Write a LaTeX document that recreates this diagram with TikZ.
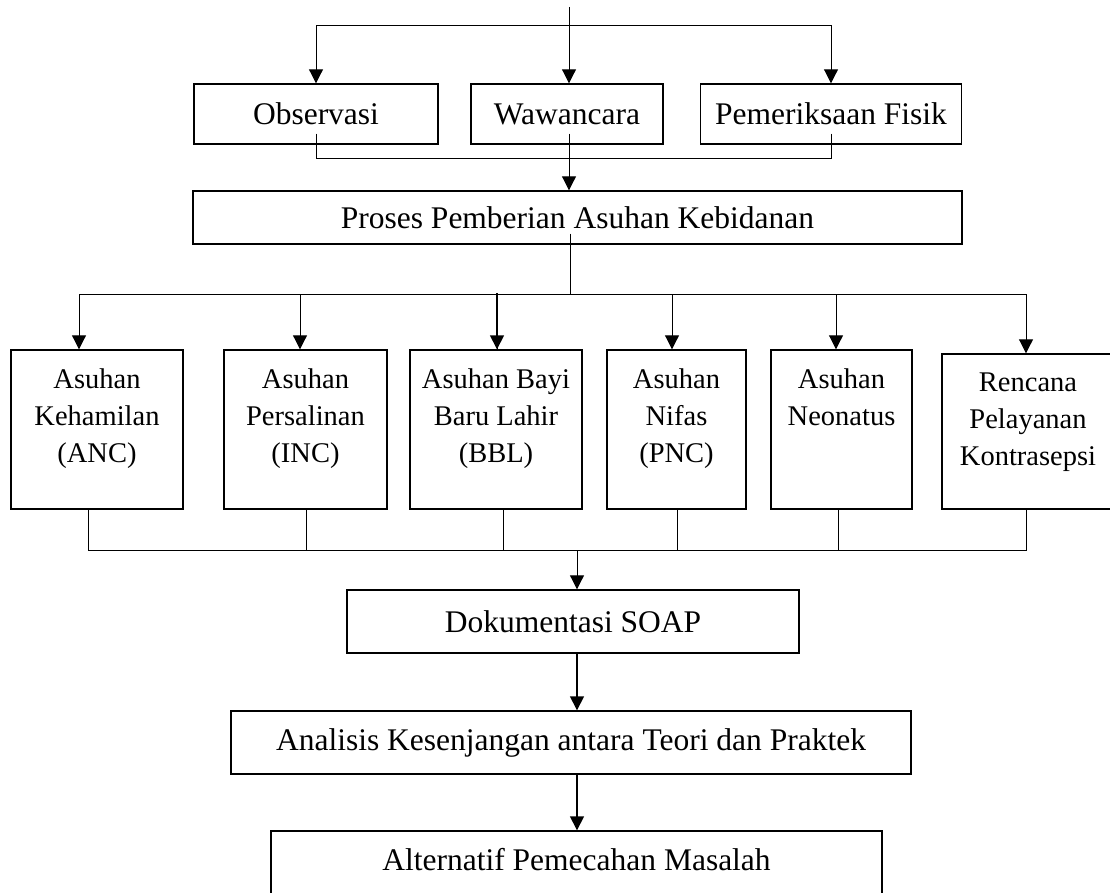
\documentclass[tikz,border=0pt]{standalone}
\usepackage{fontspec}
\setmainfont{Liberation Serif}
\usetikzlibrary{arrows.meta}
\def\mainfont{\fontsize{31.5}{37}\selectfont}
\def\childfont{\fontsize{28.5}{37}\selectfont}
\def\myboxh{60pt}
\def\mytallh{159pt}
\tikzset{
>={Triangle[length=14pt,width=14pt]},
my box/.style={draw,line width=1.4pt,inner sep=0pt,minimum height=\myboxh},
tall box/.style={my box,minimum height=\mytallh},
top text/.style={anchor=north,align=center,inner sep=0pt,yshift=-19pt,font=\childfont},
top main/.style={top text,yshift=1pt,font=\mainfont},
}
\begin{document}
\begin{tikzpicture}[x=1pt,y=-1pt,line width=1pt,font=\mainfont]
\useasboundingbox (0,0) rectangle (1110,893);
% data collection
\node[my box,minimum width=244pt] (obs) at (316,114) {Observasi};
\node[my box,minimum width=192pt] (waw) at (567,114) {Wawancara};
\node[my box,minimum width=261pt] (pem) at (831,114) {Pemeriksaan Fisik};
\node[my box,minimum width=769pt,minimum height=53pt] (proses) at (577.5,217.5) {Proses Pemberian Asuhan Kebidanan};
% care types
\node[tall box,minimum width=172pt,label={[top text]north:{Asuhan\\Kehamilan\\(ANC)}}] (anc) at (97,429.5) {};
\node[tall box,minimum width=163pt,label={[top text]north:{Asuhan\\Persalinan\\(INC)}}] (inc) at (305.5,429.5) {};
\node[tall box,minimum width=172pt,label={[top text]north:{Asuhan Bayi\\Baru Lahir\\(BBL)}}] (bbl) at (496,429.5) {};
\node[tall box,minimum width=139pt,label={[top text]north:{Asuhan\\Nifas\\(PNC)}}] (pnc) at (676.5,429.5) {};
\node[tall box,minimum width=141pt,label={[top text]north:{Asuhan\\Neonatus}}] (neo) at (841.5,429.5) {};
\node[tall box,minimum width=172pt,minimum height=155pt,label={[top text]north:{Rencana\\Pelayanan\\Kontrasepsi}}] (kb) at (1028,431.5) {};
% results
\node[my box,minimum width=452pt,minimum height=63pt] (soap) at (573,621.5) {Dokumentasi SOAP};
\node[my box,minimum width=680pt,minimum height=63pt] (ana) at (571,742.5) {Analisis Kesenjangan antara Teori dan Praktek};
\node[my box,minimum width=611pt,minimum height=68pt,label={[top main]north:{Alternatif Pemecahan Masalah}}] (alt) at (576.5,865) {};
\coordinate (in) at (569,7);
\coordinate (fork1) at (569,26);
\coordinate (join1) at (569,159);
\coordinate (fork2) at (570,294);
\coordinate (mid) at (577,550);
\draw (in) -- (fork1);
\draw[->] (fork1) -| (obs.north);
\draw[->] (fork1) -- (fork1 |- waw.north);
\draw[->] (fork1) -| (pem.north);
\draw (obs.south) ++(0,-11) |- (join1);
\draw (pem.south) ++(0,-11) |- (join1);
\draw[->] (join1 |- waw.south) ++(0,-11) -- (join1 |- proses.north);
\draw (fork2 |- proses.south) ++(0,-11) -- (fork2);
\draw (fork2) -| ([xshift=1pt]bbl.north);
\draw[->] (fork2) -| ([xshift=-18pt]anc.north);
\draw[->] (fork2) -| ([xshift=-5.5pt]inc.north);
\draw[->,line width=1.5pt] ([xshift=1pt]bbl.north) ++(0,-56) -- ([xshift=1pt]bbl.north);
\draw[->] (fork2) -| ([xshift=-4.5pt]pnc.north);
\draw[->] (fork2) -| ([xshift=-5.5pt]neo.north);
\draw[->] (fork2) -| ([xshift=-2pt]kb.north);
\draw ([xshift=-9pt]anc.south) |- (mid);
\draw ([xshift=0.5pt]inc.south) |- (mid);
\draw ([xshift=7pt]bbl.south) |- (mid);
\draw ([xshift=0.5pt]pnc.south) |- (mid);
\draw ([xshift=-3.5pt]neo.south) |- (mid);
\draw ([xshift=-2pt]kb.south) |- (mid);
\draw[->] (mid) -- (mid |- soap.north);
\draw[->,line width=1.5pt] (mid |- soap.south) -- (mid |- ana.north);
\draw[->,line width=1.5pt] (mid |- ana.south) -- (mid |- alt.north);
\end{tikzpicture}
\end{document}
